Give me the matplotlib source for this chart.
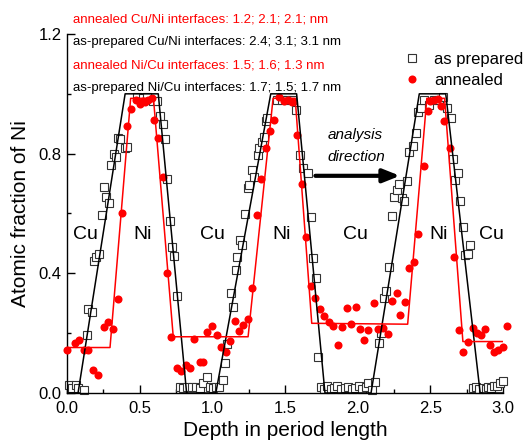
import numpy as np
import matplotlib
matplotlib.use('Agg')
import matplotlib.pyplot as plt

plt.rcParams['font.family'] = ['Liberation Sans', 'DejaVu Sans']

# model profiles (trapezoids)
prep_line_x = [0, 0.076, 0.40, 0.628, 0.823, 1.024, 1.402, 1.58, 1.775, 2.092, 2.424, 2.606, 2.843, 3.0]
prep_line_y = [0, 0, 1.0, 1.0, 0, 0, 1.0, 1.0, 0, 0, 1.0, 1.0, 0, 0]
ann_line_x = [0, 0.296, 0.438, 0.595, 0.731, 1.246, 1.418, 1.57, 1.684, 2.344, 2.476, 2.598, 2.724, 3.0]
ann_line_y = [0.152, 0.152, 0.985, 0.985, 0.188, 0.188, 0.985, 0.985, 0.233, 0.23, 0.985, 0.985, 0.172, 0.172]

# measured: as prepared
prep_x = [0.014, 0.037, 0.06, 0.076, 0.117, 0.135, 0.144, 0.174, 0.186, 0.2, 0.218, 0.238, 0.254,
          0.266, 0.286, 0.305, 0.323, 0.334, 0.353, 0.365, 0.396, 0.41,
          0.48, 0.52, 0.548, 0.589, 0.62,
          0.639, 0.658, 0.674, 0.69, 0.708, 0.724, 0.738, 0.758,
          0.777, 0.80, 0.823, 0.857, 0.887, 0.914, 0.937, 0.96, 0.983, 1.005, 1.028,
          1.047, 1.07, 1.088, 1.104, 1.127, 1.143, 1.162, 1.173, 1.189, 1.207, 1.226, 1.242, 1.253,
          1.276, 1.288, 1.311, 1.322, 1.345, 1.357, 1.368, 1.379,
          1.443, 1.478, 1.512, 1.546, 1.574,
          1.604, 1.627, 1.656, 1.679, 1.695, 1.711, 1.729,
          1.745, 1.77, 1.79, 1.815, 1.84, 1.86, 1.885, 1.91, 1.935, 1.96, 1.985, 2.01, 2.03, 2.055, 2.072,
          2.096, 2.12, 2.149, 2.16, 2.178, 2.195, 2.218, 2.234, 2.253, 2.27, 2.286, 2.303, 2.316,
          2.339, 2.355, 2.378, 2.401, 2.417, 2.435, 2.454, 2.493, 2.527, 2.562, 2.59,
          2.618, 2.641, 2.655, 2.671, 2.687, 2.701, 2.724, 2.74, 2.757, 2.77,
          2.792, 2.815, 2.835, 2.86, 2.88, 2.9, 2.92, 2.94, 2.96, 2.98, 3.0]
prep_y = [0.027, 0.016, 0.027, 0.016, 0.01, 0.194, 0.281, 0.27, 0.44, 0.453, 0.466, 0.595, 0.687,
          0.654, 0.635, 0.762, 0.80, 0.79, 0.854, 0.849, 0.818, 0.823,
          0.99, 0.985, 0.99, 0.976, 0.975,
          0.927, 0.898, 0.849, 0.716, 0.575, 0.489, 0.459, 0.325,
          0.021, 0.016, 0.021, 0.021, 0.021, 0.016, 0.032, 0.055, 0.021, 0.016, 0.021,
          0.021, 0.044, 0.099, 0.163, 0.333, 0.289, 0.411, 0.456, 0.512, 0.495, 0.598, 0.685, 0.694,
          0.745, 0.723, 0.796, 0.82, 0.838, 0.857, 0.91, 0.918,
          0.98, 0.98, 0.98, 0.98, 0.946,
          0.796, 0.751, 0.734, 0.589, 0.45, 0.386, 0.121,
          0.02, 0.015, 0.025, 0.012, 0.018, 0.022, 0.014, 0.016, 0.02, 0.013, 0.018, 0.022, 0.015, 0.02, 0.033,
          0.01, 0.037, 0.166, 0.2, 0.319, 0.341, 0.422, 0.593, 0.654, 0.679, 0.698, 0.651, 0.642,
          0.707, 0.807, 0.827, 0.868, 0.938, 0.952, 0.98, 0.963, 0.98, 0.98, 0.99,
          0.954, 0.918, 0.782, 0.712, 0.734, 0.642, 0.556, 0.462, 0.464, 0.495,
          0.016, 0.02, 0.014, 0.018, 0.015, 0.02, 0.016, 0.022, 0.025, 0.032, 0.04]

# measured: annealed
ann_x = [0.002, 0.053, 0.082, 0.114, 0.144, 0.181, 0.213, 0.254, 0.284, 0.319, 0.35, 0.38, 0.41,
         0.438, 0.474, 0.50, 0.52, 0.536, 0.559, 0.582,
         0.598, 0.628, 0.658, 0.69, 0.719, 0.754, 0.781, 0.818, 0.845, 0.875, 0.914, 0.937,
         0.965, 0.995, 1.033,
         1.058, 1.093, 1.12, 1.157, 1.185, 1.214, 1.242, 1.276, 1.304, 1.333, 1.368, 1.396, 1.425,
         1.46, 1.494, 1.524, 1.551,
         1.581, 1.615, 1.643, 1.679, 1.707, 1.741, 1.769, 1.803, 1.833, 1.863, 1.895, 1.924, 1.954,
         1.986, 2.016, 2.046, 2.073,
         2.114, 2.137, 2.172, 2.206, 2.234, 2.271, 2.294, 2.326, 2.355, 2.389, 2.417, 2.454, 2.481,
         2.50, 2.527, 2.554, 2.573, 2.596,
         2.632, 2.664, 2.694, 2.724, 2.756, 2.792, 2.82, 2.848, 2.877, 2.911, 2.939, 2.969, 2.998, 3.026]
ann_y = [0.144, 0.166, 0.177, 0.144, 0.144, 0.077, 0.06, 0.222, 0.238, 0.213, 0.314, 0.603, 0.893,
         0.95, 0.98, 0.966, 0.975, 0.974, 0.98, 0.985,
         0.913, 0.854, 0.723, 0.40, 0.188, 0.083, 0.073, 0.092, 0.083, 0.18, 0.103, 0.103,
         0.205, 0.225, 0.194,
         0.155, 0.138, 0.173, 0.241, 0.208, 0.228, 0.247, 0.35, 0.595, 0.716, 0.818, 0.876, 0.913,
         0.991, 0.976, 0.98, 0.974,
         0.861, 0.698, 0.523, 0.356, 0.317, 0.281, 0.256, 0.238, 0.225, 0.16, 0.222, 0.285, 0.23,
         0.289, 0.214, 0.177, 0.21,
         0.30, 0.213, 0.216, 0.196, 0.308, 0.333, 0.26, 0.303, 0.419, 0.437, 0.531, 0.759, 0.943,
         0.976, 0.98, 0.983, 0.958, 0.908,
         0.818, 0.456, 0.211, 0.138, 0.172, 0.216, 0.2, 0.194, 0.214, 0.16, 0.136, 0.144, 0.155, 0.225]

header_lines = ['annealed Cu/Ni interfaces: 1.2; 2.1; 2.1; nm',
                'as-prepared Cu/Ni interfaces: 2.4; 3.1; 3.1 nm',
                'annealed Ni/Cu interfaces: 1.5; 1.6; 1.3 nm',
                'as-prepared Ni/Cu interfaces: 1.7; 1.5; 1.7 nm']
header_colors = ['red', 'black', 'red', 'black']

layer_names = ['Cu', 'Ni', 'Cu', 'Ni', 'Cu', 'Ni', 'Cu']
layer_x = [0.125, 0.52, 1.0, 1.48, 1.985, 2.555, 2.92]
layer_y = 0.53

fig = plt.figure(figsize=(5.29, 4.40), dpi=100)
ax = fig.add_axes([67/529, 1-393/440, 436/529, 359/440])

ax.plot(prep_x, prep_y, 's', ms=5.2, mfc='white', mec='#333333', mew=0.8,
        label='as prepared', zorder=2, clip_on=False)
ax.plot(ann_x, ann_y, 'o', ms=5.8, mfc='red', mec='red', mew=0,
        label='annealed', zorder=3, clip_on=False)
ax.plot(prep_line_x, prep_line_y, '-', color='black', lw=1.1, zorder=4)
ax.plot(ann_line_x, ann_line_y, '-', color='red', lw=1.1, zorder=4)

for name, xx in zip(layer_names, layer_x):
    ax.text(xx, layer_y, name, fontsize=14, ha='center', va='center', zorder=5)

ax.text(1.985, 0.863, 'analysis', fontsize=11, style='italic', ha='center', va='center')
ax.text(1.99, 0.79, 'direction', fontsize=11, style='italic', ha='center', va='center')
ax.annotate('', xy=(2.31, 0.726), xytext=(1.69, 0.726),
            arrowprops=dict(arrowstyle='-|>,head_length=1.0,head_width=0.4', color='black', lw=3))

for i, (txt, col) in enumerate(zip(header_lines, header_colors)):
    fig.text(73/529, 1 - (20 + 22.5*i)/440, txt, color=col, fontsize=9.5, ha='left', va='center')

ax.set_xlim(0, 3.0)
ax.set_ylim(0, 1.2)
ax.set_xticks(np.arange(0, 3.01, 0.5))
ax.set_xticks(np.arange(0, 3.01, 0.25), minor=True)
ax.set_yticks([0.0, 0.4, 0.8, 1.2])
ax.set_yticks(np.arange(0, 1.21, 0.2), minor=True)
ax.xaxis.set_major_formatter(matplotlib.ticker.FormatStrFormatter('%.1f'))
ax.yaxis.set_major_formatter(matplotlib.ticker.FormatStrFormatter('%.1f'))
ax.tick_params(which='major', direction='in', length=6, width=1, labelsize=12)
ax.tick_params(axis='x', which='major', pad=6)
ax.tick_params(axis='y', which='major', pad=4)
ax.tick_params(which='minor', direction='in', length=3, width=1)
for s in ['top', 'right']:
    ax.spines[s].set_visible(False)
for s in ['left', 'bottom']:
    ax.spines[s].set_linewidth(1)

ax.set_xlabel('Depth in period length', fontsize=15, labelpad=3)
ax.set_ylabel('Atomic fraction of Ni', fontsize=15, labelpad=6)

ax.legend(loc='center left', bbox_to_anchor=(404/529, 1 - 70/440), bbox_transform=fig.transFigure,
          frameon=False, fontsize=12, handlelength=1.0, handletextpad=0.8, labelspacing=0.4,
          borderpad=0, borderaxespad=0)

plt.savefig('out.png', dpi=100)
